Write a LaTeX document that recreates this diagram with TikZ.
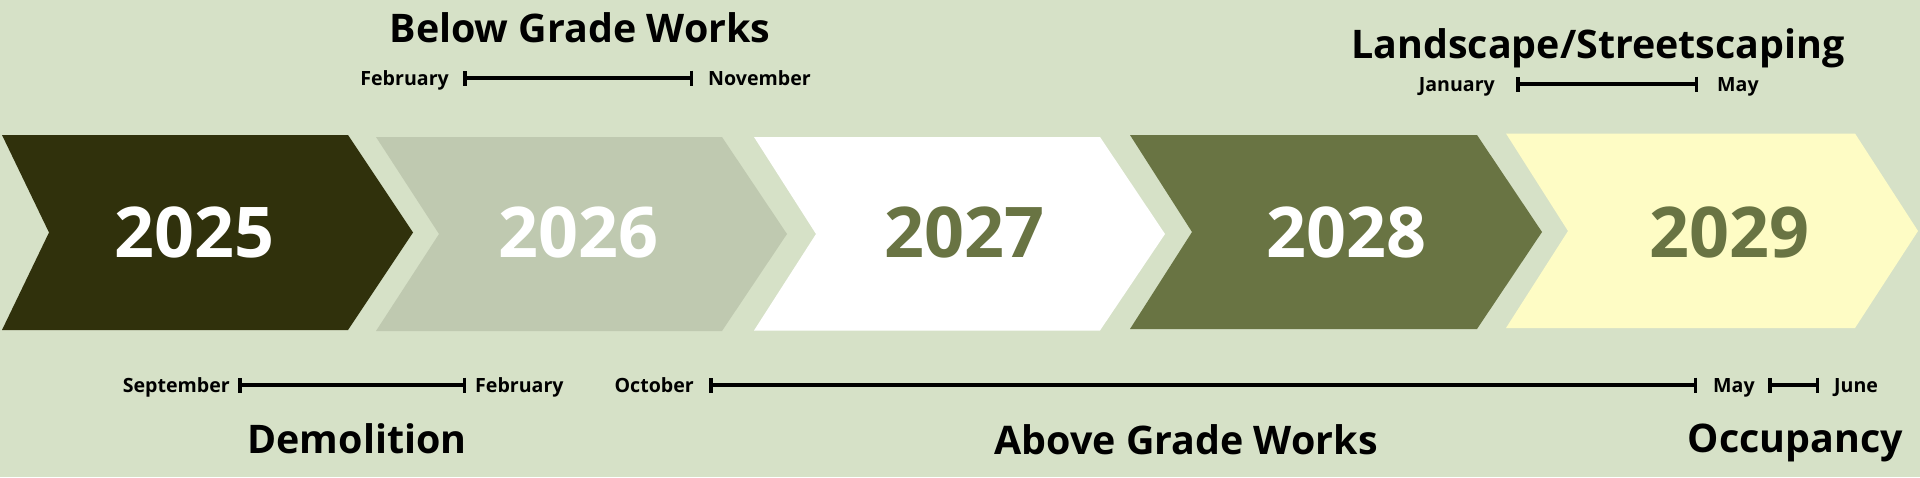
\documentclass[tikz,border=0pt]{standalone}
\usepackage{fontspec}
\setmainfont{Open Sans}
\usetikzlibrary{arrows.meta}
\definecolor{bgc}{HTML}{D6E1C7}
\definecolor{c25}{HTML}{30310C}
\definecolor{c26}{HTML}{BFC9B0}
\definecolor{c27}{HTML}{FFFFFF}
\definecolor{c28}{HTML}{697443}
\definecolor{c29}{HTML}{FEFCC5}
\begin{document}
\begin{tikzpicture}[x=1pt,y=-1pt,
  yeartxt/.style={inner sep=0pt,font=\fontsize{70}{70}\selectfont\bfseries},
  monthtxt/.style={inner sep=0pt,font=\fontsize{19.6}{20}\selectfont\bfseries,text=black},
  titletxt/.style={inner sep=0pt,font=\fontsize{39.4}{40}\selectfont\bfseries,text=black},
  spanbar/.style={line width=3.5pt,black,{Bar[width=15pt,line width=3.5pt]}-{Bar[width=15pt,line width=3.5pt]}}
]
\useasboundingbox (0,0) rectangle (1920,477);
\fill[bgc] (0,0) rectangle (1920,477);

% chevrons
\fill[c25] (2,135) -- (348,135) -- (413,232.5) -- (348,330) -- (2,330) -- (49,232.5) -- cycle;
\fill[c26] (376,137) -- (722,137) -- (787,234) -- (722,331) -- (376,331) -- (439,234) -- cycle;
\fill[c27] (754,137) -- (1100,137) -- (1165,234) -- (1100,330.5) -- (754,330.5) -- (816,234) -- cycle;
\fill[c28] (1130,135) -- (1477,135) -- (1542,232) -- (1477,329) -- (1130,329) -- (1192,232) -- cycle;
\fill[c29] (1506,133.5) -- (1855,133.5) -- (1918,231) -- (1855,328) -- (1506,328) -- (1568,231) -- cycle;

% years
\node[yeartxt,text=white] (y25) at (194.5,232) {2025};
\node[yeartxt,text=white] (y26) at (578,232) {2026};
\node[yeartxt,text=c28] (y27) at (964,232) {2027};
\node[yeartxt,text=white] (y28) at (1346,232) {2028};
\node[yeartxt,text=c28] (y29) at (1729.5,232) {2029};

% top: below grade works
\node[titletxt,anchor=base] (tbgw) at (580,42) {Below Grade Works};
\node[monthtxt,anchor=base east] (mfeb1) at (449,85.5) {February};
\node[monthtxt,anchor=base west] (mnov) at (708,85.5) {November};
\coordinate (b1s) at (463,78);
\coordinate (b1e) at (693,78);
\draw[spanbar] (b1s) -- (b1e);

% top: landscape
\node[titletxt,anchor=base] (tland) at (1598,58) {Landscape/Streetscaping};
\node[monthtxt,anchor=base east] (mjan) at (1495,91.5) {January};
\node[monthtxt,anchor=base west] (mmay1) at (1717,91.5) {May};
\coordinate (b2s) at (1516,84);
\coordinate (b2e) at (1698,84);
\draw[spanbar] (b2s) -- (b2e);

% bottom: demolition
\node[monthtxt,anchor=base east] (msep) at (230,392.5) {September};
\node[monthtxt,anchor=base west] (mfeb2) at (475,392.5) {February};
\coordinate (b3s) at (238,385);
\coordinate (b3e) at (466,385);
\draw[spanbar] (b3s) -- (b3e);
\node[titletxt,anchor=base] (tdemo) at (357,453) {Demolition};

% bottom: above grade works
\node[monthtxt,anchor=base east] (moct) at (694,392.5) {October};
\node[monthtxt,anchor=base west] (mmay2) at (1713,392.5) {May};
\coordinate (b4s) at (709,385);
\coordinate (b4e) at (1697,385);
\draw[spanbar] (b4s) -- (b4e);
\node[titletxt,anchor=base] (tagw) at (1186,454) {Above Grade Works};

% bottom: occupancy
\coordinate (b5s) at (1768,385);
\coordinate (b5e) at (1819,385);
\draw[spanbar] (b5s) -- (b5e);
\node[monthtxt,anchor=base west] (mjun) at (1834,392.5) {June};
\node[titletxt,anchor=base] (tocc) at (1795.5,452) {Occupancy};
\end{tikzpicture}
\end{document}
